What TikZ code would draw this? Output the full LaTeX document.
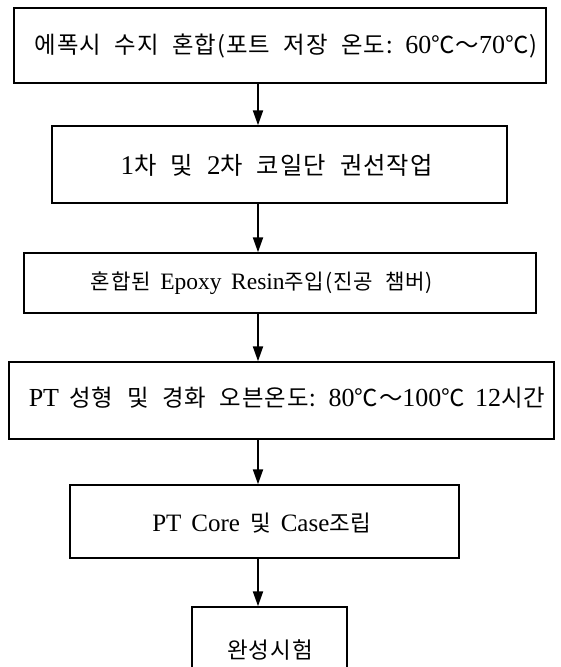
\documentclass[tikz,border=0pt]{standalone}
\usepackage{fontspec}
\setmainfont{Liberation Serif}[WordSpace=1.6]
\newfontfamily\kr{Noto Sans CJK KR}[Scale=0.9,LetterSpace=4,WordSpace=2.2]
\newcommand\hk[1]{{\kr #1}}
\newcommand\fs[1]{\fontsize{#1}{#1}\selectfont}
\usetikzlibrary{arrows.meta}
\tikzset{
  stepbox/.style={draw, line width=1.4pt, inner sep=0pt},
  steptext/.style={inner sep=0pt, font=\fs{25}, anchor=center},
  arr/.style={line width=2pt, -{Triangle[length=15pt,width=10pt]}}
}
\begin{document}
\begin{tikzpicture}[x=1pt,y=-1pt]
\useasboundingbox (0,0) rectangle (560,667);
\clip (0,0) rectangle (560,667);
\fill[white] (0,0) rectangle (560,667);
\node[stepbox, minimum width=532pt, minimum height=75pt] (b1) at (280,45.5) {};
\node[stepbox, minimum width=455pt, minimum height=77pt] (b2) at (279.5,164.5) {};
\node[stepbox, minimum width=512pt, minimum height=60pt] (b3) at (280,283) {};
\node[stepbox, minimum width=545pt, minimum height=77pt] (b4) at (281.5,400.5) {};
\node[stepbox, minimum width=389pt, minimum height=73pt] (b5) at (264.5,521.5) {};
\node[stepbox, minimum width=155pt, minimum height=83pt] (b6) at (269.5,648.5) {};
\node[steptext, font=\fs{26}] (t1) at (286,46) {\hk{에폭시 수지 혼합(포트 저장 온도:} 60\hk{℃～}70\hk{℃)}};
\node[steptext, font=\fs{27}] (t2) at (276.5,165) {1\hk{차 및 }2\hk{차 코일단 권선작업}};
\node[steptext, font=\fs{23.5}] (t3) at (262,283) {\hk{혼합된} Epoxy Resin\hk{주입(진공 챔버)}};
\node[steptext, font=\fs{26}] (t4) at (287,398) {PT \hk{성형 및 경화 오븐온도:} 80\hk{℃～}100\hk{℃} 12\hk{시간}};
\node[steptext] (t5) at (262,523) {PT Core \hk{및} Case\hk{조립}};
\node[steptext] (t6) at (270,650) {\hk{완성시험}};
\coordinate (ax) at (258,0);
\draw[arr] (b1.south -| ax) -- (b2.north -| ax);
\draw[arr] (b2.south -| ax) -- (b3.north -| ax);
\draw[arr] (b3.south -| ax) -- (b4.north -| ax);
\draw[arr] (b4.south -| ax) -- (b5.north -| ax);
\draw[arr] (b5.south -| ax) -- (b6.north -| ax);
\end{tikzpicture}
\end{document}
